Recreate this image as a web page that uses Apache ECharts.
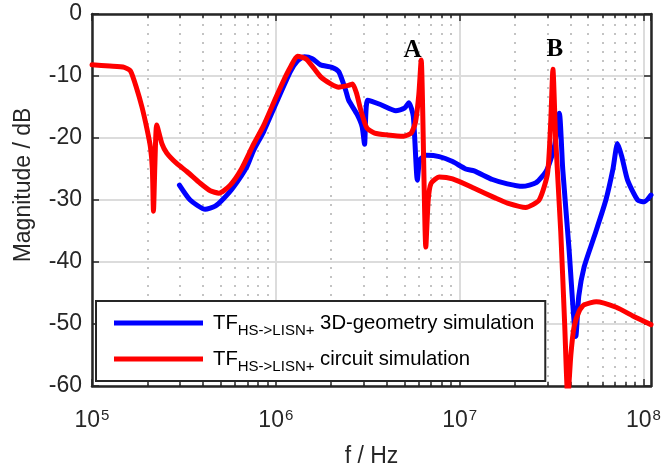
<!DOCTYPE html>
<html>
<head>
<meta charset="utf-8">
<script src="https://cdn.jsdelivr.net/npm/echarts@6/dist/echarts.min.js"></script>
<style>
html,body{margin:0;padding:0;background:#fff;}
#chart{width:664px;height:468px;}
</style>
</head>
<body>
<div id="chart"></div>
<script>
// ---- data (frequency in Hz, magnitude in dB) ----
const redFreq = [1.0e5, 1.25e5, 1.5e5, 1.62e5, 1.75e5, 1.87e5, 1.99e5, 2.08e5, 2.13e5, 2.16e5, 2.20e5, 2.25e5, 2.40e5, 2.55e5, 2.89e5, 3.28e5, 3.88e5, 4.4e5, 4.9e5, 5.65e5, 6.5e5, 7.57e5, 8.58e5, 1.0e6, 1.1e6, 1.2e6, 1.31e6, 1.47e6, 1.75e6, 2.0e6, 2.2e6, 2.5e6, 2.62e6, 2.75e6, 2.9e6, 3.13e6, 3.45e6, 4.04e6, 4.97e6, 5.45e6, 5.75e6, 6.0e6, 6.18e6, 6.55e6, 6.75e6, 7.0e6, 7.75e6, 9.16e6, 1.2e7, 1.57e7, 1.82e7, 2.29e7, 2.71e7, 3.01e7, 3.13e7, 3.22e7, 3.33e7, 3.55e7, 3.73e7, 3.88e7, 4.03e7, 4.20e7, 4.49e7, 4.76e7, 5.54e7, 7.11e7, 8.77e7, 1.1e8];
const redDb = [-8.2, -8.4, -8.6, -9.2, -12.0, -15.0, -18.5, -21.5, -25, -31.8, -24, -17.9, -20.9, -22.4, -24.1, -25.4, -27.3, -28.5, -28.9, -27.6, -25, -21.0, -18.0, -13.5, -10.8, -8.6, -6.8, -7.3, -10.1, -11.3, -11.8, -11.5, -11.3, -12.8, -15.5, -18.4, -19.2, -19.5, -19.7, -19.2, -17.5, -13, -7.4, -37.6, -30, -27.3, -26.3, -26.6, -28.1, -29.7, -30.5, -31.2, -30.0, -25.7, -17.6, -8.9, -20, -35, -50, -62, -55, -50.4, -47.8, -46.9, -46.4, -47.3, -48.7, -50.1];

const blueFreq = [2.99e5, 3.42e5, 4.13e5, 4.68e5, 5.19e5, 5.86e5, 6.97e5, 7.57e5, 8.58e5, 1.0e6, 1.2e6, 1.31e6, 1.43e6, 1.58e6, 1.75e6, 2.02e6, 2.20e6, 2.40e6, 2.49e6, 2.77e6, 2.95e6, 3.04e6, 3.16e6, 3.71e6, 4.50e6, 5.01e6, 5.30e6, 5.60e6, 5.89e6, 6.08e6, 6.6e6, 7.75e6, 9.16e6, 1.08e7, 1.2e7, 1.51e7, 1.82e7, 2.2e7, 2.61e7, 2.95e7, 3.13e7, 3.30e7, 3.49e7, 3.64e7, 3.93e7, 4.29e7, 4.45e7, 4.76e7, 5.40e7, 6.25e7, 6.83e7, 7.23e7, 7.63e7, 8.20e7, 9.30e7, 1.01e8, 1.1e8];
const blueDb = [-27.6, -30.0, -31.5, -31.0, -29.8, -28, -24.6, -22.0, -19.0, -14.5, -9.3, -7.6, -6.9, -7.2, -8.2, -8.6, -9.3, -12.3, -13.9, -16.2, -18.2, -21, -13.9, -14.6, -15.6, -15.2, -14.3, -16.5, -26.8, -23.5, -22.8, -23.0, -23.8, -25.0, -25.3, -26.7, -27.4, -27.8, -27.2, -25.4, -23.5, -21, -16, -25, -37.5, -52, -45.5, -40.8, -35.9, -30, -25, -20.9, -23, -26.8, -30, -30.3, -29.2];

const seriesNames = ['3D-geometry simulation', 'circuit simulation'];
const yTicks = [0, -10, -20, -30, -40, -50, -60];
const xDecades = [1e5, 1e6, 1e7, 1e8];
const minorMult = [2, 3, 4, 5, 6, 7, 8, 9];
const annotations = [{ name: 'A', f: 5.55e6, db: -5.9 }, { name: 'B', f: 3.30e7, db: -5.8 }];

const X_MIN = 1e5, X_MAX = 1.1e8, Y_MIN = -60, Y_MAX = 0;

// ---- build ----
const FONT = 'Liberation Sans, Arial, Helvetica, sans-serif';
const AX = '#262626';
const GRID = '#dcdcdc';

const minorFreqs = [];
xDecades.forEach(d => minorMult.forEach(m => { const f = d * m; if (f < X_MAX) minorFreqs.push(f); }));

const gridLines = minorFreqs.map(f => ({ xAxis: f }));
const tickLines = [];
minorFreqs.forEach(f => {
  tickLines.push([{ coord: [f, Y_MIN] }, { coord: [f, Y_MIN + 0.7] }]);
  tickLines.push([{ coord: [f, Y_MAX] }, { coord: [f, Y_MAX - 0.7] }]);
});

const zip = (a, b) => a.map((v, i) => [v, b[i]]);

const chart = echarts.init(document.getElementById('chart'), null, { renderer: 'canvas' });

const subLegend = n => '{m|TF}{s|HS->LISN+}{m| ' + n + '}';

chart.setOption({
  animation: false,
  backgroundColor: '#fff',
  grid: { left: 92, top: 14, right: 13, bottom: 82, containLabel: false, outerBoundsMode: 'none' },
  xAxis: [{
    type: 'log', logBase: 10, min: X_MIN, max: X_MAX, position: 'bottom',
    name: 'f / Hz', nameLocation: 'middle', nameGap: 59,
    nameTextStyle: { fontFamily: FONT, fontSize: 23, color: AX },
    axisLine: { show: true, onZero: false, lineStyle: { color: AX, width: 2.5 } },
    axisTick: { show: true, inside: true, length: 7, lineStyle: { color: AX, width: 1.5 } },
    splitLine: { show: true, lineStyle: { color: GRID, width: 2 } },
    axisLabel: {
      showMaxLabel: false, margin: 22, color: AX,
      formatter: v => '{b|10}{e|' + Math.round(Math.log10(v)) + '}',
      rich: {
        b: { fontFamily: FONT, fontSize: 23, color: AX, lineHeight: 26 },
        e: { fontFamily: FONT, fontSize: 15, color: AX, verticalAlign: 'top', lineHeight: 15, padding: [0, 0, 12, 1] }
      }
    }
  }, {
    type: 'log', logBase: 10, min: X_MIN, max: X_MAX, position: 'top',
    axisLine: { show: true, onZero: false, lineStyle: { color: AX, width: 2.5 } },
    axisTick: { show: true, inside: true, length: 7, lineStyle: { color: AX, width: 1.5 } },
    axisLabel: { show: false }, splitLine: { show: false }
  }],
  yAxis: [{
    type: 'value', min: Y_MIN, max: Y_MAX, interval: 10, position: 'left',
    name: 'Magnitude / dB', nameLocation: 'middle', nameGap: 57,
    nameTextStyle: { fontFamily: FONT, fontSize: 23, color: AX, padding: [0, 0, 0, 30] },
    axisLine: { show: true, onZero: false, lineStyle: { color: AX, width: 2.5 } },
    axisTick: { show: true, inside: true, length: 7, lineStyle: { color: AX, width: 1.5 } },
    splitLine: { show: true, lineStyle: { color: GRID, width: 2 } },
    axisLabel: { margin: 10, fontFamily: FONT, fontSize: 23, color: AX, formatter: v => String(v) }
  }, {
    type: 'value', min: Y_MIN, max: Y_MAX, interval: 10, position: 'right',
    axisLine: { show: true, onZero: false, lineStyle: { color: AX, width: 2.5 } },
    axisTick: { show: true, inside: true, length: 7, lineStyle: { color: AX, width: 1.5 } },
    axisLabel: { show: false }, splitLine: { show: false }
  }],
  legend: {
    orient: 'vertical', left: 96, top: 301,
    padding: [7, 11, 7, 18], itemGap: 6,
    backgroundColor: '#fff', borderColor: AX, borderWidth: 2,
    itemWidth: 89, itemHeight: 5, icon: 'rect',
    data: seriesNames,
    formatter: subLegend,
    textStyle: {
      padding: [0, 0, 0, 5],
      rich: {
        m: { fontFamily: FONT, fontSize: 20.3, color: '#000', lineHeight: 32 },
        s: { fontFamily: FONT, fontSize: 15, color: '#000', lineHeight: 32, padding: [15, 0, 0, 0] }
      }
    }
  },
  series: [{
    // minor (2..9 x 10^n) dotted grid lines, drawn beneath the curves
    name: 'minor-grid', type: 'line', data: [], z: 0, silent: true,
    markLine: {
      z: 0, silent: true, symbol: 'none', label: { show: false }, animation: false,
      lineStyle: { type: [2, 7], color: '#b0b0b0', width: 1.5 },
      data: gridLines
    }
  }, {
    name: seriesNames[0], type: 'line', data: zip(blueFreq, blueDb),
    showSymbol: false, symbol: 'none', smooth: 0.2,
    lineStyle: { color: '#0000ff', width: 5, cap: 'round', join: 'round' }, itemStyle: { color: '#0000ff' },
    z: 3
  }, {
    name: seriesNames[1], type: 'line', data: zip(redFreq, redDb),
    showSymbol: false, symbol: 'none', smooth: 0.2,
    lineStyle: { color: '#ff0000', width: 5, cap: 'round', join: 'round' }, itemStyle: { color: '#ff0000' },
    z: 4,
    markLine: {
      z: 1, silent: true, symbol: 'none', label: { show: false }, animation: false,
      lineStyle: { type: 'solid', color: AX, width: 1.5 },
      data: tickLines
    },
    markPoint: {
      silent: true, symbol: 'circle', symbolSize: 1,
      itemStyle: { color: 'rgba(0,0,0,0)' },
      label: { show: true, position: 'inside', formatter: '{b}', fontFamily: 'Liberation Serif, Times New Roman, serif', fontWeight: 'bold', fontSize: 25, color: '#000' },
      data: annotations.map(a => ({ name: a.name, coord: [a.f, a.db] }))
    }
  }]
});
</script>
</body>
</html>
